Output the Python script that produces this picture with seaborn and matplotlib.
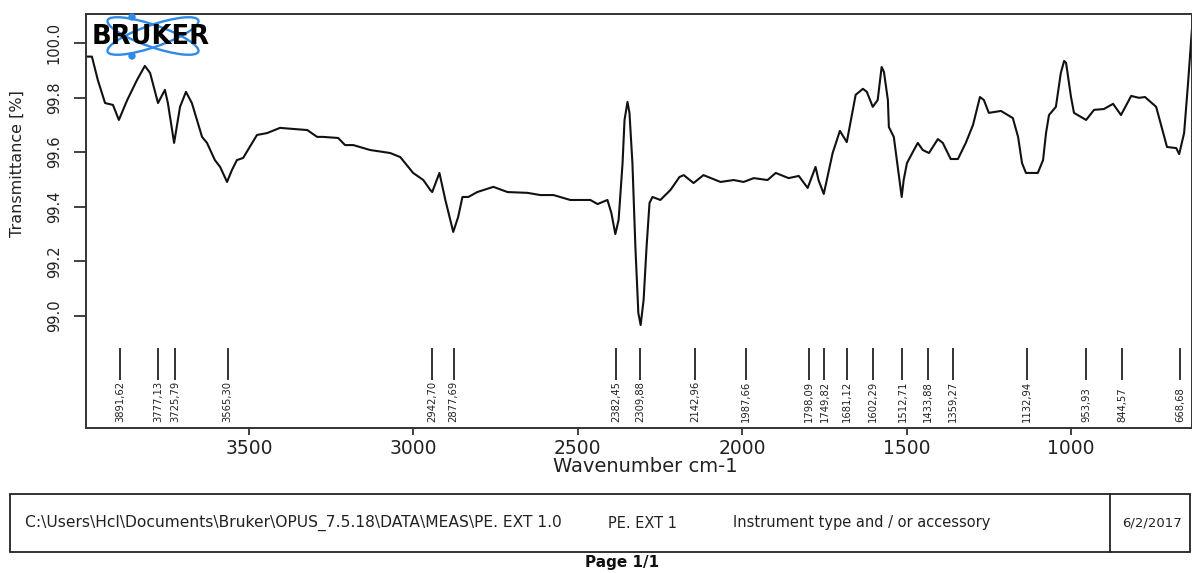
import matplotlib
matplotlib.use("Agg")
import matplotlib.pyplot as plt
import pandas as pd
import seaborn as sns
from matplotlib.patches import Ellipse, Rectangle, Circle
from matplotlib.lines import Line2D
from matplotlib.transforms import IdentityTransform

# ---------------- data ----------------
wavenumber = [3996, 3978, 3960, 3938, 3914, 3896, 3871, 3841, 3817, 3801, 3777, 3756,
              3747, 3728, 3710, 3692, 3674, 3643, 3628, 3604, 3588, 3567, 3552, 3537,
              3518, 3476, 3445, 3406, 3323, 3293, 3275, 3229, 3208, 3183, 3132, 3071,
              3040, 3001, 2970, 2949, 2943, 2921, 2903, 2879, 2864, 2851, 2833, 2806,
              2757, 2714, 2653, 2614, 2574, 2523, 2492, 2462, 2440, 2410, 2398, 2386,
              2376, 2364, 2358, 2349, 2343, 2334, 2325, 2316, 2309, 2300, 2291, 2282,
              2273, 2249, 2218, 2191, 2178, 2148, 2118, 2066, 2026, 1996, 1965, 1923,
              1898, 1859, 1828, 1801, 1777, 1768, 1752, 1725, 1703, 1682, 1655, 1633,
              1621, 1603, 1588, 1576, 1569, 1557, 1554, 1539, 1527, 1515, 1509, 1499,
              1481, 1466, 1451, 1432, 1405, 1390, 1366, 1344, 1320, 1298, 1277, 1265,
              1250, 1213, 1177, 1161, 1149, 1137, 1101, 1085, 1076, 1067, 1046, 1031,
              1021, 1015, 1000, 991, 954, 930, 900, 872, 848, 817, 793, 775, 741, 708,
              680, 671, 656, 644, 629]
transmittance = [99.95, 99.95, 99.864, 99.78, 99.773, 99.718, 99.79, 99.864, 99.916, 99.89, 99.78, 99.828,
                 99.78, 99.634, 99.766, 99.821, 99.78, 99.656, 99.634, 99.571, 99.546, 99.491, 99.535, 99.571,
                 99.579, 99.663, 99.670, 99.689, 99.681, 99.656, 99.656, 99.652, 99.626, 99.626, 99.608, 99.597,
                 99.582, 99.524, 99.498, 99.462, 99.454, 99.524, 99.425, 99.308, 99.363, 99.436, 99.436, 99.454,
                 99.473, 99.454, 99.451, 99.443, 99.443, 99.425, 99.425, 99.425, 99.410, 99.425, 99.377, 99.300,
                 99.352, 99.560, 99.718, 99.784, 99.744, 99.560, 99.253, 99.011, 98.967, 99.059, 99.253, 99.414,
                 99.436, 99.425, 99.462, 99.509, 99.516, 99.487, 99.516, 99.491, 99.498, 99.491, 99.505, 99.498,
                 99.524, 99.505, 99.513, 99.469, 99.546, 99.498, 99.447, 99.597, 99.678, 99.637, 99.810, 99.832,
                 99.821, 99.766, 99.791, 99.912, 99.894, 99.791, 99.692, 99.656, 99.546, 99.436, 99.498, 99.560,
                 99.601, 99.634, 99.608, 99.597, 99.648, 99.634, 99.575, 99.575, 99.634, 99.700, 99.802, 99.791,
                 99.744, 99.751, 99.725, 99.656, 99.560, 99.524, 99.524, 99.571, 99.670, 99.736, 99.766, 99.890,
                 99.934, 99.927, 99.802, 99.744, 99.718, 99.755, 99.758, 99.777, 99.736, 99.806, 99.799, 99.802,
                 99.766, 99.619, 99.615, 99.593, 99.670, 99.853, 100.103]

peak_wavenumbers = [3891.62, 3777.13, 3725.79, 3565.30, 2942.70, 2877.69, 2382.45, 2309.88,
                    2142.96, 1987.66, 1798.09, 1749.82, 1681.12, 1602.29, 1512.71, 1433.88,
                    1359.27, 1132.94, 953.93, 844.57, 668.68]
peak_labels = ["3891,62", "3777,13", "3725,79", "3565,30", "2942,70", "2877,69", "2382,45", "2309,88",
               "2142,96", "1987,66", "1798,09", "1749,82", "1681,12", "1602,29", "1512,71", "1433,88",
               "1359,27", "1132,94", "953,93", "844,57", "668,68"]

x_ticks = [3500, 3000, 2500, 2000, 1500, 1000]
y_ticks = [99.0, 99.2, 99.4, 99.6, 99.8, 100.0]
y_tick_labels = ["99.0", "99.2", "99.4", "99.6", "99.8", "100.0"]

x_label = "Wavenumber cm-1"
y_label = "Transmittance [%]"
footer_path = "C:\\Users\\Hcl\\Documents\\Bruker\\OPUS_7.5.18\\DATA\\MEAS\\PE. EXT 1.0"
footer_sample = "PE. EXT 1"
footer_instrument = "Instrument type and / or accessory"
footer_date = "6/2/2017"
page_text = "Page 1/1"
logo_text = "BRUKER"

# ---------------- style ----------------
sns.set_style("ticks")
plt.rcParams["font.family"] = ["DejaVu Sans"]

W, H = 1192, 573
fig = plt.figure(figsize=(W / 100, H / 100), dpi=100)
fig.patch.set_facecolor("white")

L, R, T, B = 86, 1192, 14, 428
ax = fig.add_axes([L / W, 1 - B / H, (R - L) / W, (B - T) / H])

df = pd.DataFrame({"wn": wavenumber, "T": transmittance})
sns.lineplot(data=df, x="wn", y="T", ax=ax, color="#111111", lw=1.5,
             estimator=None, sort=False)
for ln in ax.lines:
    ln.set_solid_joinstyle("round")

ax.set_xlim(3996, 632)
ax.set_ylim(98.59, 100.106)

ax.set_xticks(x_ticks)
ax.set_xticklabels([str(v) for v in x_ticks], fontsize=13.5, color="#222222")
ax.set_yticks(y_ticks)
ax.set_yticklabels(y_tick_labels, rotation=90, va="center", fontsize=10.5, color="#222222")
ax.tick_params(axis="x", direction="out", length=5, width=1.3, pad=3, color="#333333")
ax.tick_params(axis="y", direction="out", length=8.5, width=1.3, pad=9, color="#333333")

for s in ax.spines.values():
    s.set_linewidth(1.4)
    s.set_color("#333333")

ax.set_xlabel(x_label, fontsize=14, color="#222222")
ax.xaxis.set_label_coords((645 - L) / (R - L), (B - 457) / (B - T))
ax.set_ylabel(y_label, fontsize=11.5, color="#222222")
ax.yaxis.set_label_coords((25 - L) / (R - L), (B - 164) / (B - T))

# peak markers
ax.vlines(peak_wavenumbers, 98.766, 98.883, color="#111111", lw=1.2)
for wn, lab in zip(peak_wavenumbers, peak_labels):
    ax.text(wn, 98.612, lab, rotation=90, ha="center", va="bottom",
            fontsize=7.2, color="#222222")

# ---------------- logo ----------------
idt = IdentityTransform()
blue = "#2f8ae6"
for ang in (19, -19):
    fig.add_artist(Ellipse((153, H - 36), 96, 22, angle=ang, fill=False,
                           ec=blue, lw=1.7, transform=idt))
fig.add_artist(Circle((132, H - 17), 3, color=blue, transform=idt))
fig.add_artist(Circle((132, H - 56), 3, color=blue, transform=idt))
fig.text(151 / W, 1 - 37 / H, logo_text, fontsize=18.5, weight="heavy",
         ha="center", va="center", color="black")

# ---------------- footer ----------------
fig.add_artist(Rectangle((10, H - 552), 1180, 58, fill=False, ec="#222222",
                         lw=1.3, transform=idt))
fig.add_artist(Line2D([1110, 1110], [H - 552, H - 494], color="#222222",
                      lw=1.3, transform=idt))
fy = 1 - 523 / H
fig.text(25 / W, fy, footer_path, fontsize=11.2, va="center", ha="left", color="#222222")
fig.text(608 / W, fy, footer_sample, fontsize=10.5, va="center", ha="left", color="#222222")
fig.text(733 / W, fy, footer_instrument, fontsize=10.5, va="center", ha="left", color="#222222")
fig.text(1122 / W, fy, footer_date, fontsize=9.5, va="center", ha="left", color="#222222")
fig.text(622 / W, 1 - 563 / H, page_text, fontsize=11, weight="bold",
         ha="center", va="center", color="#111111")

fig.savefig("out.png", dpi=100, facecolor="white")
